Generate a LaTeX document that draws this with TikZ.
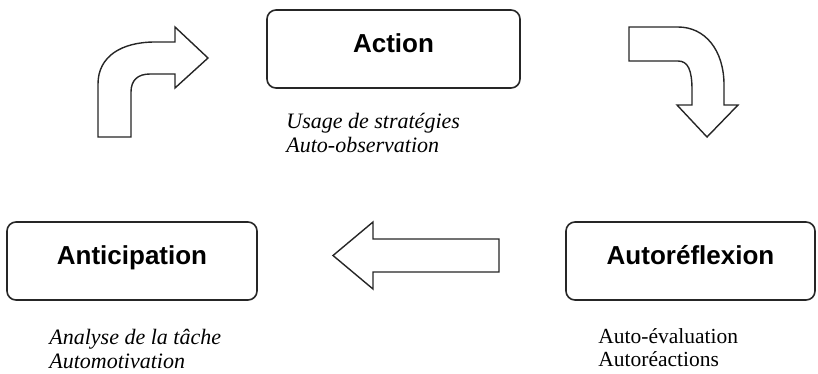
\documentclass[tikz,border=0pt]{standalone}
\usepackage{fontspec}
\setmainfont{Liberation Serif}
\setsansfont{Liberation Sans}
\usetikzlibrary{calc,positioning}

\tikzset{
  etape/.style={draw=black!85, line width=1.6pt, rounded corners=9pt,
    minimum width=250pt, minimum height=78pt, inner sep=0pt,
    text height=18pt, text depth=12pt,
    font=\sffamily\bfseries\fontsize{26}{30}\selectfont},
  sousit/.style={anchor=north west, inner sep=0pt, align=left,
    font=\fontsize{22}{24}\selectfont\itshape},
  sousrm/.style={anchor=north west, inner sep=0pt, align=left,
    font=\fontsize{21.5}{22.5}\selectfont},
  fleche/.style={draw=black!85, line width=1.4pt, fill=white}
}

\begin{document}
\begin{tikzpicture}[x=1pt, y=-1pt]
	\useasboundingbox (0,0) rectangle (818,373);

	\node[etape, minimum width=253pt] (action) at (393.5, 49) {Action};
	\node[etape] (anticip) at (132, 261) {Anticipation};
	\node[etape, minimum width=249pt] (autoref) at (690.5, 261) {Autoréflexion};

	\node[sousit] (actiontxt) at ($(action.south west) + (20, 24)$) {Usage de stratégies\\Auto-observation};
	\node[sousit] (anticiptxt) at ($(anticip.south west) + (43, 28)$) {Analyse de la tâche\\Automotivation};
	\node[sousrm] (autoreftxt) at ($(autoref.south west) + (33, 28)$) {Auto-évaluation\\Autoréactions};

	% anticipation -> action
	\draw[fleche] (98,137) -- (98,84) .. controls (98,56) and (122,42) .. (155,42)
		-- (175,42) -- (175,27) -- (208,58) -- (175,88) -- (175,74) -- (150,74)
		.. controls (138,74) and (131,80) .. (131,92) -- (131,137) -- cycle;
	% action -> autoreflexion
	\draw[fleche] (629,27) -- (678,27) .. controls (705,27) and (724,50) .. (724,85)
		-- (724,105) -- (738,105) -- (707,137) -- (677,105) -- (692,105) -- (692,90)
		.. controls (692,70) and (688,61) .. (678,61) -- (629,61) -- cycle;
	% autoreflexion -> anticipation
	\draw[fleche] (499,239) -- (373,239) -- (373,222) -- (333,255.5) -- (373,289)
		-- (373,272) -- (499,272) -- cycle;

\end{tikzpicture}
\end{document}
